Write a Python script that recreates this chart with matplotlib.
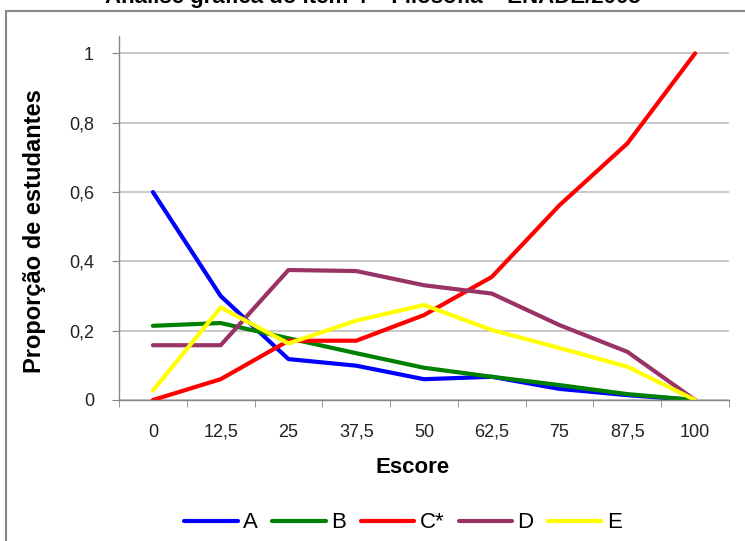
import matplotlib.pyplot as plt
from matplotlib.patches import Rectangle

plt.rcParams['font.family'] = ['Liberation Sans', 'DejaVu Sans']

escores = ['0', '12,5', '25', '37,5', '50', '62,5', '75', '87,5', '100']
serie_a = [0.60, 0.30, 0.118, 0.099, 0.060, 0.067, 0.032, 0.014, 0.0]
serie_b = [0.214, 0.222, 0.178, 0.135, 0.093, 0.067, 0.043, 0.017, 0.0]
serie_c = [0.0, 0.060, 0.171, 0.171, 0.245, 0.355, 0.562, 0.740, 1.0]
serie_d = [0.158, 0.158, 0.375, 0.372, 0.331, 0.307, 0.216, 0.139, 0.0]
serie_e = [0.027, 0.267, 0.163, 0.229, 0.274, 0.202, 0.150, 0.096, 0.0]
nomes = ['A', 'B', 'C*', 'D', 'E']
cores = ['#0000FF', '#008000', '#FF0000', '#993366', '#FFFF00']
yticks = [0, 0.2, 0.4, 0.6, 0.8, 1.0]
ytick_labels = ['0', '0,2', '0,4', '0,6', '0,8', '1']

fig = plt.figure(figsize=(7.45, 5.41), dpi=100)
ax = fig.add_axes([119 / 745, 1 - 400 / 541, 610 / 745, 364 / 541])

x = list(range(len(escores)))
for serie, nome, cor in zip([serie_a, serie_b, serie_c, serie_d, serie_e], nomes, cores):
    ax.plot(x, serie, color=cor, lw=3, label=nome,
            solid_capstyle='round', solid_joinstyle='round')

ax.set_xlim(-0.5, len(escores) - 0.5)
ax.set_ylim(0, 1.05)
ax.set_xticks(x)
ax.set_xticklabels(escores, fontsize=13, color='#222222')
ax.set_xticks([i - 0.5 for i in range(len(escores) + 1)], minor=True)
ax.tick_params(axis='x', which='major', length=0, pad=17)
ax.tick_params(axis='x', which='minor', length=5, color='#868686', direction='out')
ax.set_yticks(yticks)
ax.set_yticklabels(ytick_labels, fontsize=13, color='#222222')
ax.tick_params(axis='y', length=5, color='#868686', pad=13)

ax.grid(axis='y', color='#C0C0C0', lw=1.2)
ax.set_axisbelow(True)
for s in ['top', 'right']:
    ax.spines[s].set_visible(False)
for s in ['left', 'bottom']:
    ax.spines[s].set_color('#868686')
    ax.spines[s].set_linewidth(1)

fig.text(413 / 745, 1 - 473 / 541, 'Escore', fontsize=16, fontweight='bold',
         ha='center', va='baseline')
fig.text(35 / 745, 1 - 231 / 541, 'Proporção de estudantes', fontsize=17,
         fontweight='bold', rotation=90, ha='center', va='center')
# titulo parcialmente cortado no topo, como na imagem original
fig.text(0.5, 1 - 3 / 541, 'Análise gráfica do item 4 – Filosofia – ENADE/2005',
         fontsize=16, fontweight='bold', ha='center', va='baseline')

fig.patches.append(Rectangle((6 / 745, -0.05), 1.1, 1 - 11 / 541 + 0.05,
                             transform=fig.transFigure, fill=False,
                             edgecolor='#888888', lw=1.5))

leg = fig.legend(loc='center', bbox_to_anchor=(403 / 745, 1 - 523 / 541), ncol=5,
                 frameon=False, fontsize=16, handlelength=2.4, handletextpad=0.25,
                 columnspacing=0.65, borderaxespad=0)

fig.savefig('out.png', dpi=100)
